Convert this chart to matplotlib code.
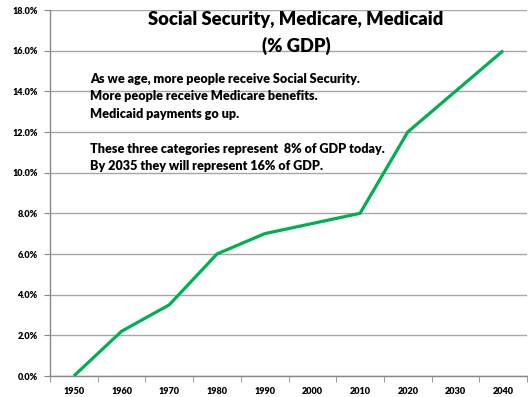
import matplotlib.pyplot as plt
import numpy as np

# data
years = ['1950', '1960', '1970', '1980', '1990', '2000', '2010', '2020', '2030', '2040']
pct_gdp = [0.0, 2.2, 3.5, 6.0, 7.0, 7.5, 8.0, 12.0, 14.0, 16.0]
y_ticks = [0, 2, 4, 6, 8, 10, 12, 14, 16, 18]

title_lines = ['Social Security, Medicare, Medicaid', '(% GDP)']
notes = ['As we age, more people receive Social Security.',
         'More people receive Medicare benefits.',
         'Medicaid payments go up.',
         '',
         'These three categories represent  8% of GDP today.',
         'By 2035 they will represent 16% of GDP.']

plt.rcParams['font.family'] = ['Lato', 'DejaVu Sans']
heavy = 800

fig = plt.figure(figsize=(5.28, 3.97), dpi=100)
ax = fig.add_axes([50 / 528, 1 - 376 / 397, 477 / 528, 366 / 397])

x = np.arange(len(years))
ax.plot(x, pct_gdp, color='#00b050', linewidth=2.3, solid_capstyle='butt', zorder=3)

ax.set_xlim(-0.5, len(years) - 0.5)
ax.set_ylim(0, 18)
ax.set_yticks(y_ticks)
ax.set_yticklabels([f'{v:.1f}%' for v in y_ticks], fontsize=6.6, fontweight=heavy)
ax.yaxis.grid(True, color='#a6a6a6', linewidth=1)
ax.set_axisbelow(True)

ax.set_xticks(x)
ax.set_xticklabels(years, fontsize=6.6, fontweight=heavy)
ax.set_xticks(np.arange(-0.5, len(years)), minor=True)
ax.tick_params(axis='x', which='major', length=0, pad=8)
ax.tick_params(axis='x', which='minor', length=4, color='#888888', direction='out')
ax.tick_params(axis='y', length=4, color='#888888', pad=5)

for s in ['top', 'right']:
    ax.spines[s].set_visible(False)
for s in ['left', 'bottom']:
    ax.spines[s].set_color('#888888')
    ax.spines[s].set_linewidth(1)

# title, drawn inside the plot area
for i, line in enumerate(title_lines):
    fig.text(296 / 528, 1 - (20 + i * 26) / 397, line,
             ha='center', va='center', fontsize=13.2, fontweight=heavy)

for i, line in enumerate(notes):
    fig.text(90 / 528, 1 - (79 + i * 17.4) / 397, line, ha='left', va='center',
             fontsize=9.1, fontweight=heavy)

fig.savefig('out.png', dpi=100)
